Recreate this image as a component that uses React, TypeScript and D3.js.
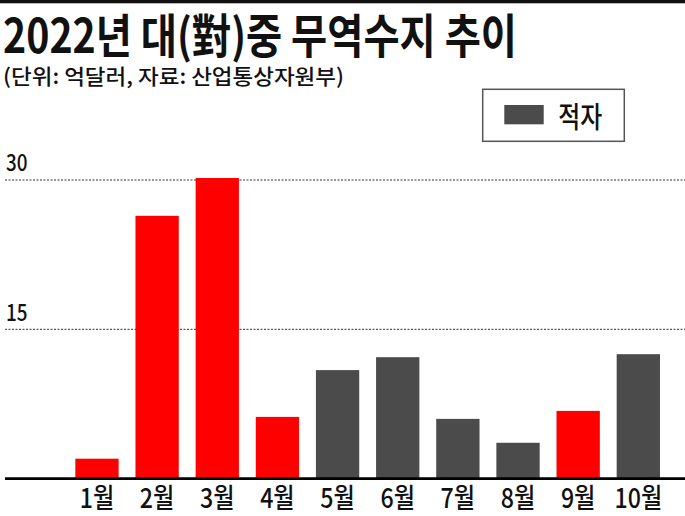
import React from 'react';
import * as d3 from 'd3';

const months = ['1월', '2월', '3월', '4월', '5월', '6월', '7월', '8월', '9월', '10월'];
// 무역수지 (억달러): positive = 흑자, negative = 적자
const balance = [2.0, 26.4, 30.2, 6.2, -10.9, -12.2, -6.0, -3.6, 6.8, -12.5];
const yTicks = [15, 30];
const legendLabels = ['적자'];
const title = '2022년 대(對)중 무역수지 추이';
const subtitle = '(단위: 억달러, 자료: 산업통상자원부)';

const W = 685;
const H = 516;
const RED = '#ff0000';
const GRAY = '#4b4b4b';
const FONT = '"Noto Sans CJK KR", "Noto Sans", sans-serif';

export default function App() {
  const x = d3
    .scaleBand<string>()
    .domain(months)
    .range([66.9, 668.4])
    .paddingInner(0.28)
    .paddingOuter(0.14);
  const y = d3.scaleLinear().domain([0, 30]).range([478.6, 180]);

  return (
    <svg
      width={W}
      height={H}
      viewBox={`0 0 ${W} ${H}`}
      style={{ position: 'absolute', left: 0, top: 0, background: '#fff' }}
      fontFamily={FONT}
    >
      <rect x={0} y={0} width={W} height={H} fill="#fff" />
      {/* top rule */}
      <rect x={0} y={0} width={W} height={3.3} fill="#111" />

      {/* title */}
      <text
        x={3}
        y={52.7}
        fontSize={47}
        fontWeight={700}
        fill="#111"
        textLength={514}
        lengthAdjust="spacingAndGlyphs"
      >
        {title}
      </text>
      <text
        x={3}
        y={83.5}
        fontSize={21}
        fontWeight={500}
        fill="#111"
        textLength={341}
        lengthAdjust="spacingAndGlyphs"
      >
        {subtitle}
      </text>

      {/* legend */}
      <g>
        <rect x={482.7} y={89.3} width={141.6} height={52} fill="#fff" stroke="#555" strokeWidth={1.5} />
        <rect x={504.3} y={105} width={39.4} height={19.3} fill={GRAY} />
        <text
          x={558.3}
          y={128}
          fontSize={29}
          fontWeight={500}
          fill="#111"
          textLength={44}
          lengthAdjust="spacingAndGlyphs"
        >
          {legendLabels[0]}
        </text>
      </g>

      {/* grid lines */}
      {yTicks.map((t) => (
        <g key={t}>
          <line
            x1={5}
            x2={W}
            y1={y(t)}
            y2={y(t)}
            stroke="#333"
            strokeWidth={1}
            strokeDasharray="2,1.5"
          />
          <g transform={`translate(6, ${y(t) - 8.6}) scale(0.82, 1)`}>
            <text x={0} y={0} fontSize={23} fontWeight={500} fill="#111">
              {t}
            </text>
          </g>
        </g>
      ))}

      {/* bars */}
      {months.map((m, i) => {
        const v = balance[i];
        const top = y(Math.abs(v));
        return (
          <rect
            key={m}
            x={x(m)}
            y={top}
            width={x.bandwidth()}
            height={y(0) - top}
            fill={v < 0 ? GRAY : RED}
          />
        );
      })}

      {/* baseline */}
      <line x1={5} x2={W} y1={y(0)} y2={y(0)} stroke="#000" strokeWidth={2.6} />

      {/* x labels */}
      {months.map((m) => (
        <g key={m} transform={`translate(${(x(m) as number) + x.bandwidth() / 2}, 508.3) scale(0.86, 1)`}>
          <text x={0} y={0} fontSize={27} fontWeight={500} fill="#111" textAnchor="middle">
            {m}
          </text>
        </g>
      ))}
    </svg>
  );
}
